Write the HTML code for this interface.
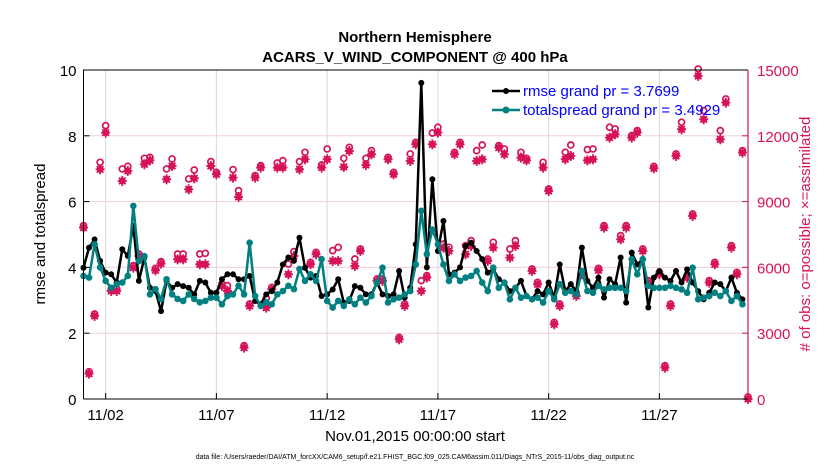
<!DOCTYPE html>
<html><head><meta charset="utf-8"><style>
body{margin:0;background:#fff;}
svg text{font-family:"Liberation Sans",Arial,sans-serif;}
</style></head><body>
<svg id="chart" width="830" height="470" xmlns="http://www.w3.org/2000/svg">
<rect width="830" height="470" fill="#fff"/>
<text x="415" y="42" font-size="15" font-weight="bold" text-anchor="middle">Northern Hemisphere</text>
<text x="415" y="62" font-size="15" font-weight="bold" text-anchor="middle">ACARS_V_WIND_COMPONENT @ 400 hPa</text>
<g id="grid"></g><g id="marks"></g><g id="axes"></g>
<text transform="translate(45,234) rotate(-90)" font-size="15" text-anchor="middle">rmse and totalspread</text>
<text transform="translate(810,234) rotate(-90)" font-size="15" fill="#d6135a" text-anchor="middle"># of obs: o=possible; ×=assimilated</text>
<text x="415" y="441" font-size="15" text-anchor="middle">Nov.01,2015 00:00:00 start</text>
<text x="415" y="459" font-size="7" text-anchor="middle">data file: /Users/raeder/DAI/ATM_forcXX/CAM6_setup/f.e21.FHIST_BGC.f09_025.CAM6assim.011/Diags_NTrS_2015-11/obs_diag_output.nc</text>
<g>
<line x1="492" y1="91" x2="520" y2="91" stroke="#000" stroke-width="2.5"/><circle cx="506" cy="91" r="3" fill="#000"/>
<text x="523" y="96" font-size="15" fill="#0000ff">rmse grand pr = 3.7699</text>
<line x1="492" y1="110" x2="520" y2="110" stroke="#008080" stroke-width="2.5"/><circle cx="506" cy="110" r="3.5" fill="#008080"/>
<text x="523" y="115" font-size="15" fill="#0000ff">totalspread grand pr = 3.4929</text>
</g>
</svg>
<script>
const rmse=[3.99,4.6,4.85,4.2,3.84,3.79,3.54,4.55,4.35,5.26,3.59,4.3,3.38,3.28,2.67,3.59,3.38,3.49,3.43,3.38,3.18,3.59,3.54,3.23,3.23,3.64,3.79,3.79,3.64,3.64,3.74,2.98,2.88,3.18,3.28,3.54,4.09,4.3,4.2,4.9,3.99,3.69,
3.74,3.13,3.18,3.33,3.64,2.93,2.98,3.43,3.38,3.18,3.18,3.54,3.18,3.13,3.18,3.89,3.08,3.38,4.7,9.61,4.0,6.68,4.5,5.41,3.79,3.84,4.0,4.65,4.75,4.5,4.25,3.84,3.95,3.64,3.54,3.28,3.38,
3.59,3.13,3.03,3.28,3.18,3.54,3.08,4.09,3.28,3.49,3.28,4.6,3.59,3.38,3.69,3.08,3.64,3.49,4.3,2.93,4.45,4.09,4.25,2.78,3.69,3.89,3.69,3.59,3.89,3.54,3.94,3.54,3.28,3.03,3.23,3.54,3.49,3.28,3.69,3.23,3.03];
const spread=[3.74,3.69,4.7,4.0,3.59,3.38,3.49,3.54,3.74,5.87,4.19,4.34,3.18,3.34,3.04,3.64,3.18,3.04,2.98,3.18,3.04,2.94,2.98,3.08,3.08,2.88,3.13,3.18,3.44,3.18,4.75,3.13,2.83,2.94,2.88,3.18,3.28,3.44,3.34,3.95,3.59,3.79,
3.59,4.25,2.98,2.78,2.98,2.83,3.03,2.88,3.08,2.93,3.13,3.54,3.99,2.93,3.03,3.08,3.18,3.28,4.09,5.72,4.4,5.15,4.7,4.09,3.59,3.79,3.59,3.69,3.74,3.89,3.54,3.28,3.99,3.38,3.54,3.03,3.38,
3.08,3.13,3.03,3.08,2.93,3.28,3.03,3.49,3.23,3.28,3.18,3.89,3.28,3.23,3.44,3.33,3.38,3.38,3.38,3.28,4.25,3.79,4.25,3.44,3.38,3.38,3.38,3.44,3.38,3.33,3.23,3.99,3.03,3.08,3.13,3.23,3.13,3.28,2.98,3.13,2.88];
const assimilated=[7813,1155,3785,10473,12145,4925,4925,9941,10397,5989,6521,10701,10883,5867,6171,10017,10625,6369,6369,9561,10062,6141,6141,10625,10245,5153,4925,10093,9211,2341,4241,10093,10549,4165,5001,10549,10549,5685,6521,10473,10929,6141,
6597,10549,10929,6293,6293,10579,11309,6065,6749,10670,11157,5381,5381,10929,10245,2721,4241,10853,11613,4925,5533,11613,12145,6901,6749,11157,11613,6597,6977,10853,10929,6293,6901,11461,11157,6445,6977,
11005,10883,5837,5229,10549,9485,3405,4241,10929,11081,4697,5685,10883,10929,5867,7813,11917,12069,7281,7813,11917,12145,6749,5305,10518,5685,1429,4241,11081,12297,5533,8345,14729,12753,5305,6141,11841,13513,6901,5685,11233,0];
const possible=[7813,1155,3785,10701,12373,4925,4925,10397,10518,5989,6521,10883,10929,5867,6171,10397,10853,6521,6521,9941,10351,6521,6551,10731,10245,5153,5077,10366,9409,2341,4241,10093,10549,4499,5001,10670,10777,6065,6627,10731,11157,6141,
6597,10579,11309,6673,6825,10883,11385,6293,6749,10883,11233,5381,5381,10929,10245,2721,4241,11081,11613,5305,5533,12038,12297,6977,6825,11157,11613,6901,7129,11233,11491,6293,7053,11461,11309,6749,7129,
11157,10883,5837,5229,10701,9485,3405,4241,11157,11491,4697,5685,11278,11309,5867,7813,12297,12221,7357,7813,11917,12145,6749,5305,10518,5685,1429,4241,11081,12525,5533,8345,14957,13057,5305,6141,12145,13589,6901,5685,11233,0];
const leftTicks=[0,2,4,6,8,10];
const rightTicks=[0,3000,6000,9000,12000,15000];
const dateTicks=[1,6,11,16,21,26];
const dateLabels=["11/02","11/07","11/12","11/17","11/22","11/27"];

const X0=83.5,X1=748,Y0=399,Y1=70;
const xs=d=>X0+(d/30)*(X1-X0);
const yL=v=>Y0-(v/10)*(Y0-Y1);
const yR=v=>Y0-(v/15000)*(Y0-Y1);
const NS="http://www.w3.org/2000/svg";
function mk(tag,attrs,parent){const e=document.createElementNS(NS,tag);for(const k in attrs)e.setAttribute(k,attrs[k]);parent.appendChild(e);return e;}
const grid=document.getElementById('grid'),marks=document.getElementById('marks'),axes=document.getElementById('axes');
dateTicks.forEach((d,i)=>{
  const g=mk('line',{x1:xs(d),x2:xs(d),y1:Y1,y2:Y0,stroke:'#d8d8d8','stroke-width':1},grid);
  
  
  mk('line',{x1:xs(d),x2:xs(d),y1:Y0,y2:Y0-6,stroke:'#000'},axes);
  const lb=mk('text',{x:xs(d),y:420,'font-size':15,'text-anchor':'middle'},axes);
  lb.textContent=dateLabels[i];
  
  
});
rightTicks.forEach(v=>{
  if(v>0&&v<15000){const g=mk('line',{x1:X0,x2:X1,y1:yR(v),y2:yR(v),stroke:'#f0d0dc','stroke-width':1},grid);
  
  }
  mk('line',{x1:X1,x2:X1-6,y1:yR(v),y2:yR(v),stroke:'#d6135a'},axes);
  const lb=mk('text',{x:X1+9,y:yR(v)+6,'font-size':15,fill:'#d6135a'},axes);
  lb.textContent=String(v);
  
  
});
leftTicks.forEach(v=>{
  mk('line',{x1:X0,x2:X0+6,y1:yL(v),y2:yL(v),stroke:'#000'},axes);
  const lb=mk('text',{x:X0-7,y:yL(v)+6,'font-size':15,'text-anchor':'end'},axes);
  lb.textContent=String(v);
  
  
});
const fr=mk('path',{d:`M${X0},${Y0}V${Y1}H${X1}`,fill:'none',stroke:'#000','stroke-width':1},axes);


mk('line',{x1:X0,x2:X1,y1:Y0,y2:Y0,stroke:'#000'},axes);
const ra=mk('line',{x1:X1,x2:X1,y1:Y1,y2:Y0,stroke:'#d6135a','stroke-width':1.2},axes);



const pink='#d6135a';
possible.forEach((v,i)=>{
  const c=mk('circle',{cx:xs(i*0.25),cy:yR(v)-2,r:3,fill:'#fff',stroke:pink,'stroke-width':1.7},marks);
  
  
});
assimilated.forEach((v,i)=>{
  const x=xs(i*0.25),y=yR(v);
  const g=mk('g',{stroke:pink,'stroke-width':1.8},marks);
  
  
  mk('circle',{cx:x,cy:y,r:3.4,fill:pink,stroke:'none'},g);
  mk('line',{x1:x-4.5,x2:x+4.5,y1:y,y2:y},g);
  mk('line',{x1:x,x2:x,y1:y-5,y2:y+5},g);
  mk('line',{x1:x-3.3,x2:x+3.3,y1:y-3.3,y2:y+3.3},g);
  mk('line',{x1:x-3.3,x2:x+3.3,y1:y+3.3,y2:y-3.3},g);
});
function series(arr,color,r,name){
  const p=mk('polyline',{points:arr.map((v,i)=>xs(i*0.25)+','+yL(v)).join(' '),fill:'none',stroke:color,'stroke-width':2.5,'stroke-linejoin':'round'},marks);
  
  
  arr.forEach((v,i)=>{
    const c=mk('circle',{cx:xs(i*0.25),cy:yL(v),r:r,fill:color},marks);
    
    
  });
}
series(rmse,'#000',3,'rmse');
series(spread,'#008080',3.3,'totalspread');
</script>
</body></html>
